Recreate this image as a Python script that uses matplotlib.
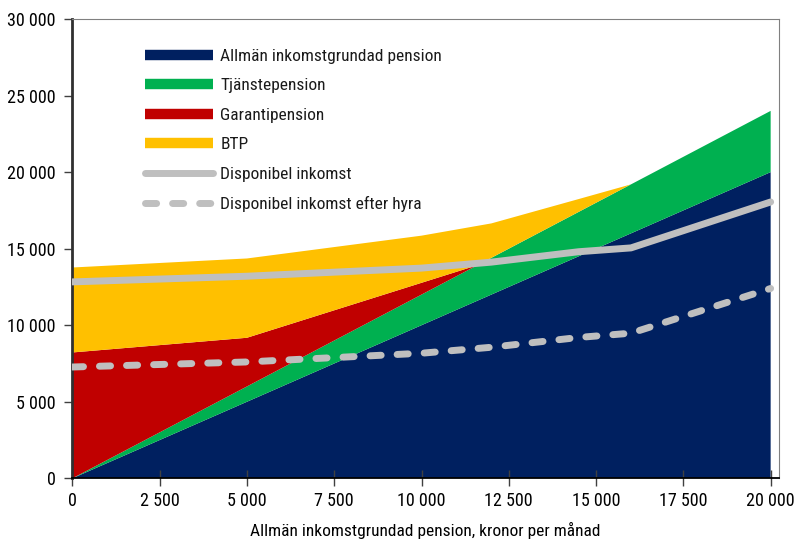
import matplotlib
matplotlib.use("Agg")
import matplotlib.pyplot as plt
from matplotlib.lines import Line2D
from matplotlib.ticker import FuncFormatter, MultipleLocator
from matplotlib import font_manager as fm

# ---- data ----
x_area = [0, 5000, 10000, 11600, 12000, 14500, 16000, 20000]
allman = [0, 5000, 10000, 11600, 12000, 14500, 16000, 20000]
tjanste = [0, 1000, 2000, 2320, 2400, 2900, 3200, 4000]
garanti = [8220, 3180, 770, 0, 0, 0, 0, 0]
btp = [5550, 5180, 3080, 2570, 2250, 840, 0, 0]

x_line = [0, 5000, 10000, 12000, 14500, 16000, 20000]
disp = [12830, 13200, 13730, 14120, 14800, 15050, 18050]
disp_hyra = [7270, 7600, 8170, 8560, 9200, 9480, 12400]

labels = ["Allmän inkomstgrundad pension", "Tjänstepension", "Garantipension", "BTP",
          "Disponibel inkomst", "Disponibel inkomst efter hyra"]
colors = ["#002060", "#00B050", "#C00000", "#FFC000"]
gray = "#BFBFBF"
xlabel = "Allmän inkomstgrundad pension, kronor per månad"

# ---- pick a condensed font if one is installed ----
def find_condensed():
    prefs = ["robotocondensed-regular", "dejavusanscondensed.ttf", "liberationsansnarrow-regular",
             "notosans-condensed.ttf", "opensans-condensed", "opensanscondensed"]
    files = [f for f in fm.fontManager.ttflist]
    for p in prefs:
        for f in files:
            if p in f.fname.lower().replace("_", "-").replace(" ", ""):
                return f
    for f in files:
        n = f.fname.lower()
        if ("condensed" in n or "narrow" in n) and not any(k in n for k in
                ["bold", "italic", "oblique", "light", "thin", "black", "medium", "semi", "extra"]):
            return f
    return None

cf = find_condensed()
if cf is not None:
    fm.fontManager.addfont(cf.fname)
    fp_name = fm.FontProperties(fname=cf.fname).get_name()
    plt.rcParams["font.family"] = [fp_name, "DejaVu Sans"]
    plt.rcParams["font.stretch"] = cf.stretch
    fs = 13
    fs2 = 12.5
else:
    plt.rcParams["font.family"] = ["DejaVu Sans"]
    fs = 10.5
    fs2 = 10.5
plt.rcParams["text.color"] = "#1a1a1a"

fig = plt.figure(figsize=(7.98, 5.39), dpi=100)
ax = fig.add_axes([0.0907, 0.1126, 0.976 - 0.0907, 0.9647 - 0.1126])

ax.stackplot(x_area, allman, tjanste, garanti, btp, colors=colors, linewidth=0)
ax.plot(x_line, disp, color=gray, lw=5, solid_capstyle="round", solid_joinstyle="round", zorder=3)
ax.plot(x_line, disp_hyra, color=gray, lw=5, dashes=(1.6, 2.3), dash_capstyle="round", zorder=3)

ax.set_xlim(0, 20235)
ax.set_ylim(0, 30000)
ax.xaxis.set_major_locator(MultipleLocator(2500))
ax.yaxis.set_major_locator(MultipleLocator(5000))
fmt = FuncFormatter(lambda v, p: f"{int(round(v)):,}".replace(",", " "))
ax.xaxis.set_major_formatter(fmt)
ax.yaxis.set_major_formatter(fmt)
ax.tick_params(axis="x", direction="inout", length=11, width=1, color="#404040", labelsize=fs, pad=4)
ax.tick_params(axis="y", direction="out", length=6, width=1, color="#404040", labelsize=fs, pad=6)

for s in ["top", "right"]:
    ax.spines[s].set_color("#808080")
    ax.spines[s].set_linewidth(0.8)
ax.spines["left"].set_color("#303030")
ax.spines["left"].set_linewidth(2)
ax.spines["bottom"].set_color("#000000")
ax.spines["bottom"].set_linewidth(1.3)

ax.set_xlabel(xlabel, fontsize=fs2, labelpad=9)

handles = [Line2D([0], [0], color=c, lw=7.5, solid_capstyle="butt") for c in colors]
handles.append(Line2D([0], [0], color=gray, lw=5, solid_capstyle="round"))
handles.append(Line2D([0], [0], color=gray, lw=5, dashes=(1.6, 2.3), dash_capstyle="round"))
hl = 68 / (fs2 * 100 / 72)
leg = ax.legend(handles, labels, loc="upper left", bbox_to_anchor=(0.08, 0.97), frameon=False,
                fontsize=fs2, handlelength=hl, handletextpad=0.45, labelspacing=0.83)

fig.savefig("out.png", dpi=100)
